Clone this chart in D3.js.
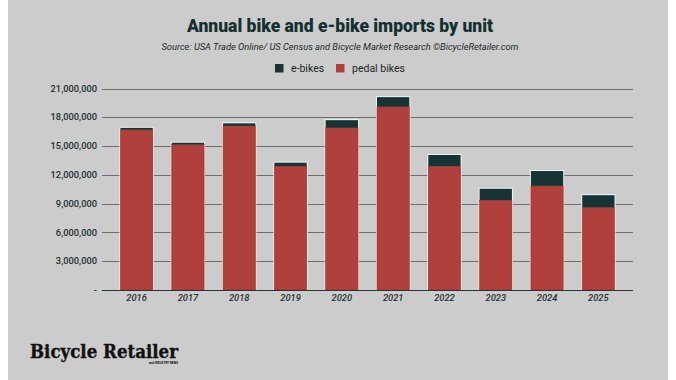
<!DOCTYPE html>
<html>
<head>
<meta charset="utf-8">
<script src="https://cdn.jsdelivr.net/npm/d3@7"></script>
<style>
  html, body { margin: 0; padding: 0; background: #ffffff; }
  svg { display: block; }
</style>
</head>
<body>
<svg id="chart" width="676" height="380"></svg>
<script>
const years = ["2016","2017","2018","2019","2020","2021","2022","2023","2024","2025"];
const pedalBikes = [16700000, 15150000, 17100000, 12900000, 16900000, 19100000, 12900000, 9350000, 10850000, 8600000];
const eBikes = [200000, 200000, 270000, 370000, 800000, 1000000, 1170000, 1200000, 1550000, 1280000];
const yTicks = [0, 3000000, 6000000, 9000000, 12000000, 15000000, 18000000, 21000000];
const seriesNames = ["e-bikes", "pedal bikes"];
const seriesColors = ["#163434", "#b0403c"];

const svg = d3.select("#chart");
const W = 676, H = 380;

// background panel
svg.append("rect").attr("x", 0).attr("y", 0).attr("width", W).attr("height", H).attr("fill", "#ffffff");
svg.append("rect").attr("x", 8).attr("y", 0).attr("width", 660).attr("height", H).attr("fill", "#cccccc");

const x = d3.scaleBand().domain(years).range([102, 633]).paddingInner(0.37).paddingOuter(0.36);
const y = d3.scaleLinear().domain([0, 21000000]).range([290, 88.5]);

// gridlines
svg.append("g").selectAll("line").data(yTicks.slice(1)).join("line")
  .attr("x1", 102).attr("x2", 633)
  .attr("y1", d => Math.round(y(d)) + 0.5).attr("y2", d => Math.round(y(d)) + 0.5)
  .attr("stroke", "#6e6e6e").attr("stroke-width", 1);

// y labels
const fmt = d3.format(",");
svg.append("g").selectAll("text").data(yTicks).join("text")
  .attr("x", 97).attr("y", d => y(d) + 3.2)
  .attr("text-anchor", "end")
  .attr("font-family", "Roboto, sans-serif").attr("font-size", 9.3)
  .attr("font-weight", 500)
  .attr("fill", "#1c3030")
  .text(d => d === 0 ? "-" : fmt(d));

// data rows
const rows = years.map((yr, i) => ({ year: yr, pedal: pedalBikes[i], ebike: eBikes[i] }));

// halo behind bars
svg.append("g").selectAll("rect").data(rows).join("rect")
  .attr("x", d => x(d.year) - 1)
  .attr("width", x.bandwidth() + 2)
  .attr("y", d => y(d.pedal + d.ebike) - 1)
  .attr("height", d => y(0) - y(d.pedal + d.ebike) + 1)
  .attr("fill", "#f2f4f4");

// pedal bars
svg.append("g").selectAll("rect").data(rows).join("rect")
  .attr("x", d => x(d.year))
  .attr("width", x.bandwidth())
  .attr("y", d => y(d.pedal))
  .attr("height", d => y(0) - y(d.pedal))
  .attr("fill", seriesColors[1])
  .attr("stroke", "#a52a26").attr("stroke-width", 0.6);

// e-bike bars
svg.append("g").selectAll("rect").data(rows).join("rect")
  .attr("x", d => x(d.year))
  .attr("width", x.bandwidth())
  .attr("y", d => y(d.pedal + d.ebike))
  .attr("height", d => y(d.pedal) - y(d.pedal + d.ebike))
  .attr("fill", seriesColors[0]);

// baseline
svg.append("line").attr("x1", 102).attr("x2", 633)
  .attr("y1", y(0) + 0.5).attr("y2", y(0) + 0.5)
  .attr("stroke", "#2a3434").attr("stroke-width", 1);

// x labels
svg.append("g").selectAll("text").data(years).join("text")
  .attr("x", d => x(d) + x.bandwidth() / 2)
  .attr("y", 301)
  .attr("text-anchor", "middle")
  .attr("font-family", "Roboto, sans-serif").attr("font-style", "italic")
  .attr("font-weight", 500)
  .attr("font-size", 9.3).attr("fill", "#1c3030")
  .text(d => d);

// title
svg.append("text").attr("x", 340).attr("y", 32).attr("text-anchor", "middle")
  .attr("font-family", "Roboto, sans-serif").attr("font-weight", 900)
  .attr("font-size", 17.5).attr("fill", "#143030")
  .text("Annual bike and e-bike imports by unit");

svg.append("text").attr("x", 340).attr("y", 50).attr("text-anchor", "middle")
  .attr("font-family", "Roboto, sans-serif").attr("font-style", "italic")
  .attr("font-size", 9.3).attr("fill", "#1c2828")
  .text("Source: USA Trade Online/ US Census and Bicycle Market Research ©BicycleRetailer.com");

// legend
const legendX = [275, 336];
const lg = svg.append("g").selectAll("g").data(seriesNames).join("g")
  .attr("transform", (d, i) => `translate(${legendX[i]},64)`);
lg.append("rect").attr("x", 0).attr("y", 0).attr("width", 8.5).attr("height", 8.5)
  .attr("fill", (d, i) => seriesColors[i]);
lg.append("text").attr("x", 16).attr("y", 8).attr("font-family", "Roboto, sans-serif")
  .attr("font-size", 10.5).attr("fill", "#1c2828").text(d => d);

// logo
svg.append("text").attr("x", 30).attr("y", 358)
  .attr("font-family", "'DejaVu Serif', serif").attr("font-weight", "bold")
  .attr("font-size", 19).attr("fill", "#111111")
  .attr("stroke", "#111111").attr("stroke-width", 0.4)
  .attr("textLength", 148).attr("lengthAdjust", "spacingAndGlyphs")
  .text("Bicycle Retailer");
svg.append("text").attr("x", 178).attr("y", 364).attr("text-anchor", "end")
  .attr("font-family", "Roboto, sans-serif").attr("font-weight", "bold")
  .attr("font-size", 3).attr("fill", "#111111")
  .text("and INDUSTRY NEWS");
</script>
</body>
</html>
